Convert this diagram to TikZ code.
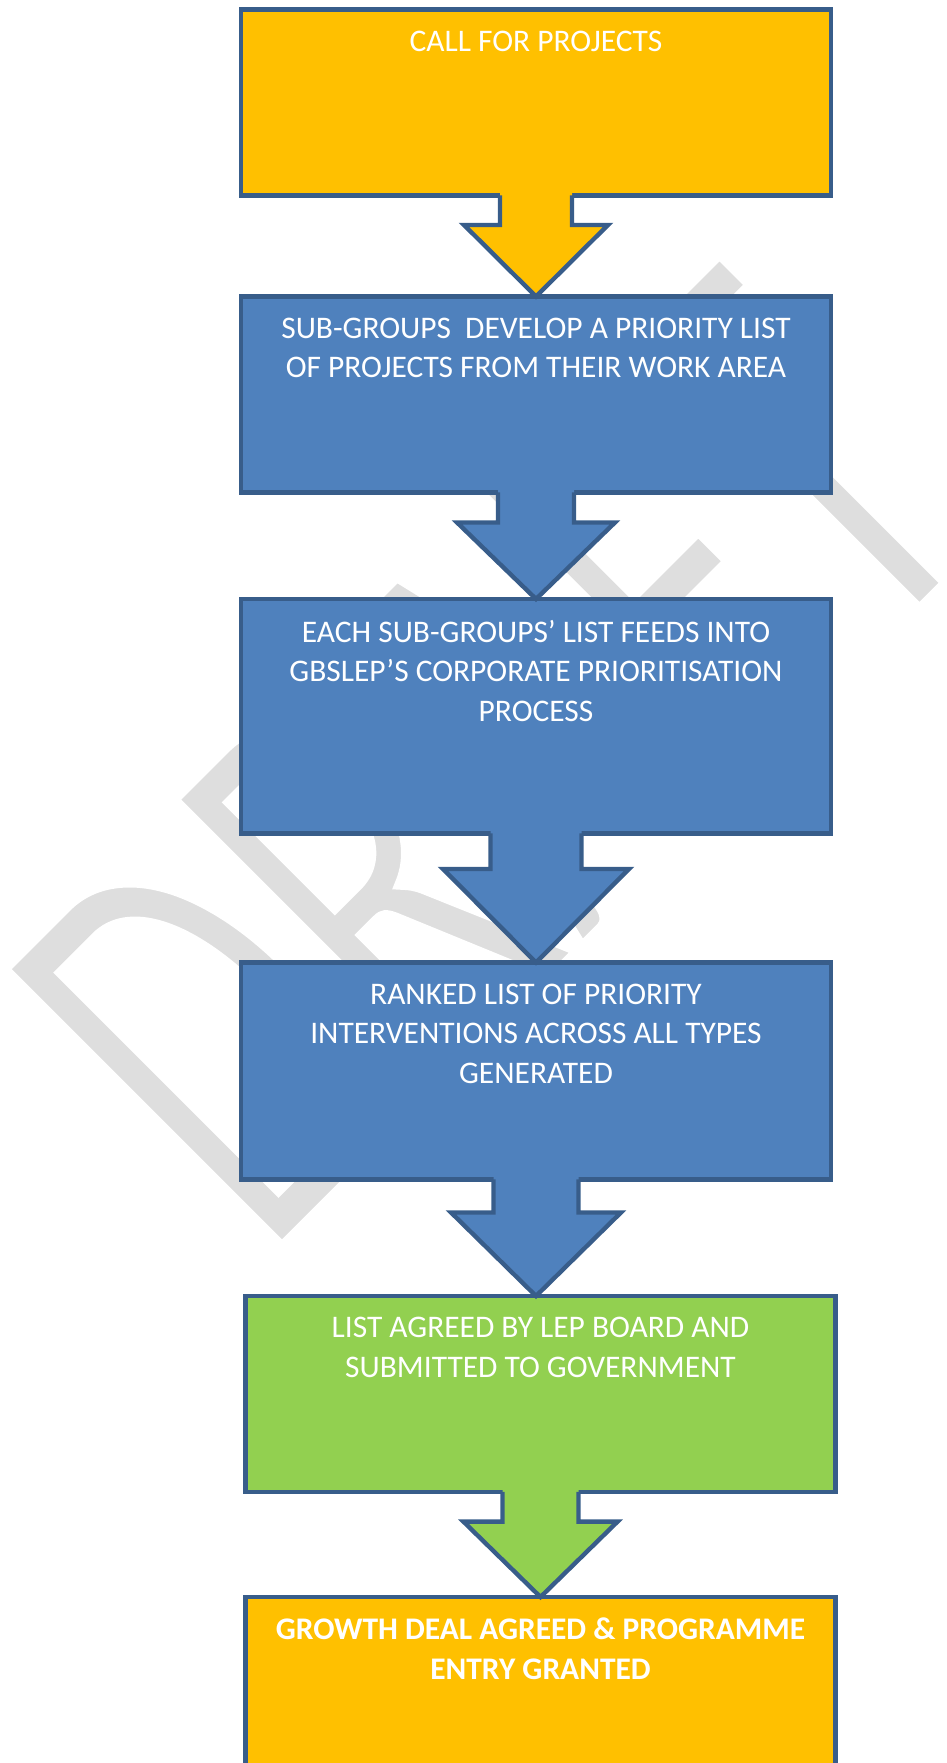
\documentclass[tikz,border=0pt]{standalone}
\usepackage{fontspec}
\setmainfont{Carlito}
\usetikzlibrary{positioning,calc}
\definecolor{callyellow}{RGB}{255,192,0}
\definecolor{stepblue}{RGB}{79,129,189}
\definecolor{agreegreen}{RGB}{146,208,80}
\definecolor{edgeblue}{RGB}{56,93,138}
\definecolor{draftgrey}{RGB}{222,222,222}
\newcommand\thindraft[1]{\special{pdf:literal direct 1 Tr 7 w}#1\special{pdf:literal direct 0 Tr}}

\begin{document}
\begin{tikzpicture}[x=0.02cm,y=-0.02cm,line width=2.5pt,
stage/.style={rectangle,draw=edgeblue,fill=#1,anchor=north,minimum width=11.8cm,inner sep=0pt,outer sep=0pt},
stagetext/.style={text=white,align=center,anchor=north,inner sep=0pt,font=\fontsize{17.9}{22.5}\selectfont},
boldtext/.style={stagetext,font=\fontsize{17.9}{22.5}\selectfont\bfseries},
draftmark/.style={text=#1,font=\fontsize{350}{350}\selectfont,inner sep=0pt,anchor=base west,rotate=45,xscale=0.63}]
\useasboundingbox (0,0) rectangle (946,1763);
\clip (0,0) rectangle (946,1763);
\node[draftmark=draftgrey] (draft) at (264,1266) {DRAFT};
\node[draftmark=white] (draftcut) at (264,1266) {\thindraft{DRAFT}};
\node[stage=callyellow,minimum height=3.72cm] (call) at (536,9.5) {};
\node[stage=stepblue,minimum height=3.92cm] (sub) at (536,296.5) {};
\node[stage=stepblue,minimum height=4.69cm] (feed) at (536,599) {};
\node[stage=stepblue,minimum height=4.34cm] (rank) at (536,962.5) {};
\node[stage=agreegreen,minimum height=3.92cm] (agree) at (540.5,1296) {};
\node[stage=callyellow,minimum height=4.2cm] (deal) at (540.5,1597) {};
\node[stagetext,below=0.38cm of call.north] (calltext) {CALL FOR PROJECTS};
\node[stagetext,below=0.38cm of sub.north] (subtext) {SUB-GROUPS\ \ DEVELOP A PRIORITY LIST\\OF PROJECTS FROM THEIR WORK AREA};
\node[stagetext,below=0.38cm of feed.north] (feedtext) {EACH SUB-GROUPS’ LIST FEEDS INTO\\GBSLEP’S CORPORATE PRIORITISATION\\PROCESS};
\node[stagetext,below=0.38cm of rank.north] (ranktext) {RANKED LIST OF PRIORITY\\INTERVENTIONS ACROSS ALL TYPES\\GENERATED};
\node[stagetext,below=0.38cm of agree.north] (agreetext) {LIST AGREED BY LEP BOARD AND\\SUBMITTED TO GOVERNMENT};
\node[boldtext,below=0.38cm of deal.north] (dealtext) {GROWTH DEAL AGREED \& PROGRAMME\\ENTRY GRANTED};
\foreach \a/\b/\s/\h/\d/\c in {call/sub/36/72/29.5/callyellow,sub/feed/38/79/30/stepblue,feed/rank/45.5/93/35.5/stepblue,rank/agree/42.5/85/33/stepblue,agree/deal/38/77/29.7/agreegreen} {
   \fill[fill=\c] ($(\a.south)+(-\s,-5)$) -- ($(\a.south)+(-\s,\d)$) -- ($(\a.south)+(-\h,\d)$) -- (\a.south |- \b.north)
      -- ($(\a.south)+(\h,\d)$) -- ($(\a.south)+(\s,\d)$) -- ($(\a.south)+(\s,-5)$) -- cycle;
   \draw[edgeblue] ($(\a.south)+(-\s,0)$) -- ($(\a.south)+(-\s,\d)$) -- ($(\a.south)+(-\h,\d)$) -- (\a.south |- \b.north)
      -- ($(\a.south)+(\h,\d)$) -- ($(\a.south)+(\s,\d)$) -- ($(\a.south)+(\s,0)$);
}
\end{tikzpicture}
\end{document}
